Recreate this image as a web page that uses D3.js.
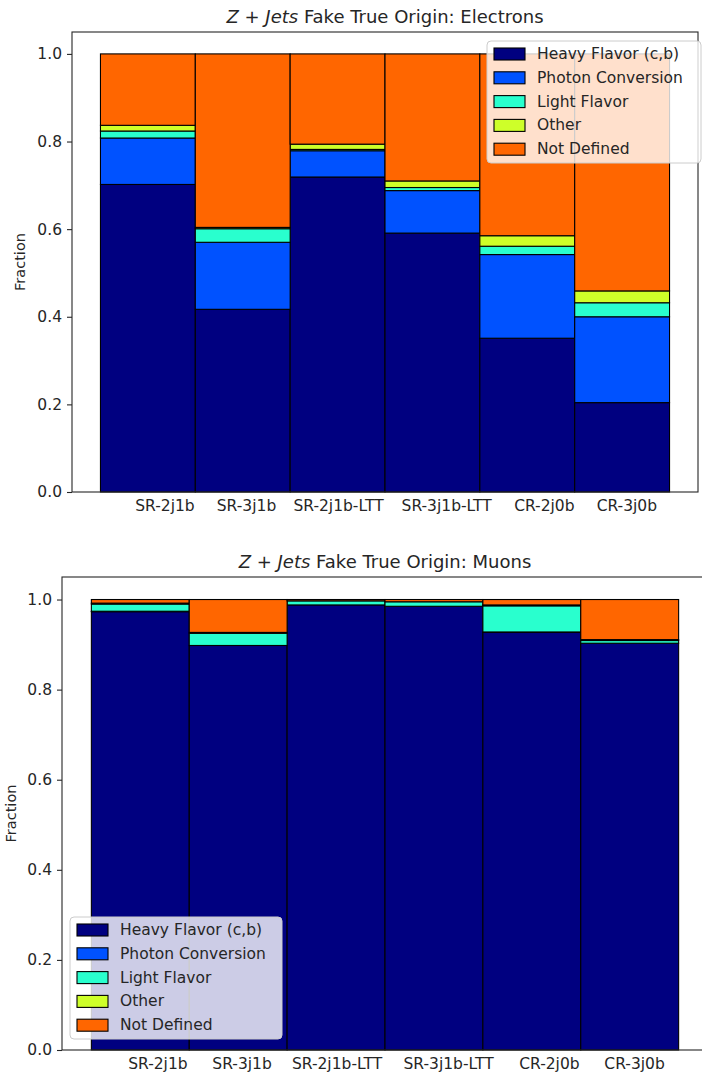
<!DOCTYPE html>
<html>
  <head>
    <title>Z+Jets fake origin</title>
    <script src="https://cdn.jsdelivr.net/npm/d3@7"></script>
    <style>
      body { margin: 0; background: #fff; }
      text { font-family: "DejaVu Sans", sans-serif; fill: #262626; }
    </style>
  </head>
  <body>
    <svg width="702" height="1077" id="mainsvg"></svg>
    <script>
      // categories + legend entries
      const regions = ['SR-2j1b', 'SR-3j1b', 'SR-2j1b-LTT', 'SR-3j1b-LTT', 'CR-2j0b', 'CR-3j0b'];
      const origins = ['Heavy Flavor (c,b)', 'Photon Conversion', 'Light Flavor', 'Other', 'Not Defined'];
      const yTicks = [0.0, 0.2, 0.4, 0.6, 0.8, 1.0];

      // electrons
      const elHeavy  = [0.702, 0.417, 0.719, 0.591, 0.351, 0.204];
      const elPhoton = [0.106, 0.153, 0.060, 0.097, 0.191, 0.196];
      const elLight  = [0.016, 0.031, 0.003, 0.007, 0.019, 0.032];
      const elOther  = [0.013, 0.003, 0.012, 0.015, 0.024, 0.027];
      const elNotDef = [0.163, 0.396, 0.206, 0.290, 0.415, 0.541];

      // muons
      const muHeavy  = [0.973, 0.898, 0.988, 0.985, 0.927, 0.903];
      const muPhoton = [0.001, 0.000, 0.000, 0.000, 0.001, 0.000];
      const muLight  = [0.016, 0.027, 0.009, 0.010, 0.058, 0.006];
      const muOther  = [0.002, 0.002, 0.000, 0.000, 0.002, 0.002];
      const muNotDef = [0.008, 0.073, 0.003, 0.005, 0.012, 0.089];

      const colors = ['#000080', '#0052ff', '#29ffce', '#ceff29', '#ff6600'];
      // tick labels in the original sit a bit right of the bar centres
      const labelNudge = [0.18, 0.04, 0.01, 0.15, 0.18, 0.05];

      const svg = d3.select('#mainsvg');
      const fs = 15.5;

      const toRows = function(series){
        return regions.map((r, i) => {
          const row = {region: r, idx: i};
          origins.forEach((o, k) => { row[o] = series[k][i]; });
          return row;
        });
      };

      const drawPanel = function(opt){
        const {box, series, particle, legendPos, ylabelX} = opt;
        const g = svg.append('g');

        const xScale = d3.scaleLinear().domain([-0.8, 5.8]).range([box.left, box.right]);
        const yScale = d3.scaleLinear().domain([0, 1.05]).range([box.bottom, box.top]);

        const stacked = d3.stack().keys(origins)(toRows(series));

        // bars
        stacked.forEach((layer, k) => {
          g.append('g').selectAll('rect').data(layer).join('rect')
            .attr('x', d => xScale(d.data.idx - 0.5))
            .attr('width', d => xScale(d.data.idx + 0.5) - xScale(d.data.idx - 0.5))
            .attr('y', d => yScale(d[1]))
            .attr('height', d => yScale(d[0]) - yScale(d[1]))
            .attr('fill', colors[k])
            .attr('stroke', '#000')
            .attr('stroke-width', 1.1);
        });

        // frame
        g.append('rect')
          .attr('x', box.left).attr('y', box.top)
          .attr('width', box.right - box.left).attr('height', box.bottom - box.top)
          .attr('fill', 'none').attr('stroke', '#262626').attr('stroke-width', 1.1);

        // y axis
        const yAxis = d3.axisLeft(yScale).tickValues(yTicks).tickFormat(d3.format('.1f'))
          .tickSize(5).tickPadding(5);
        const yg = g.append('g').attr('transform', `translate(${box.left},0)`).call(yAxis);
        yg.select('.domain').remove();
        yg.selectAll('line').attr('stroke', '#262626').attr('stroke-width', 1.1);
        yg.selectAll('text').attr('font-size', fs).attr('font-family', 'DejaVu Sans').attr('fill', '#262626');

        // x labels
        g.append('g').selectAll('text').data(regions).join('text')
          .attr('x', (d, i) => xScale(i + labelNudge[i]))
          .attr('y', box.bottom + 19)
          .attr('text-anchor', 'middle')
          .attr('font-size', fs)
          .text(d => d);

        // y label
        g.append('text')
          .attr('transform', `translate(${ylabelX},${(box.top + box.bottom) / 2}) rotate(-90)`)
          .attr('text-anchor', 'middle')
          .attr('dominant-baseline', 'central')
          .attr('font-size', 14.5)
          .text('Fraction');

        // title
        const t = g.append('text')
          .attr('x', (box.left + box.right) / 2)
          .attr('y', box.top - 9)
          .attr('text-anchor', 'middle')
          .attr('font-size', 18);
        t.append('tspan').attr('font-style', 'italic').text('Z');
        t.append('tspan').text(' + ');
        t.append('tspan').attr('font-style', 'italic').text('Jets');
        t.append('tspan').text(' Fake True Origin: ' + particle);

        // legend
        const lg = g.append('g').attr('transform', `translate(${legendPos.x},${legendPos.y})`);
        lg.append('rect')
          .attr('width', legendPos.w).attr('height', 122)
          .attr('rx', 4)
          .attr('fill', '#fff').attr('fill-opacity', 0.8)
          .attr('stroke', '#cccccc').attr('stroke-width', 1);
        origins.forEach((o, k) => {
          const yy = 13 + k * 23.8;
          lg.append('rect')
            .attr('x', 7).attr('y', yy - 6)
            .attr('width', 31).attr('height', 12)
            .attr('fill', colors[k]).attr('stroke', '#000').attr('stroke-width', 1.1);
          lg.append('text')
            .attr('x', 50).attr('y', yy)
            .attr('dominant-baseline', 'central')
            .attr('font-size', fs)
            .text(o);
        });
      };

      drawPanel({
        box: {left: 72, right: 698, top: 32, bottom: 492},
        series: [elHeavy, elPhoton, elLight, elOther, elNotDef],
        particle: 'Electrons',
        legendPos: {x: 487, y: 41, w: 214},
        ylabelX: 20
      });

      drawPanel({
        box: {left: 62, right: 708, top: 577, bottom: 1050},
        series: [muHeavy, muPhoton, muLight, muOther, muNotDef],
        particle: 'Muons',
        legendPos: {x: 70, y: 917, w: 212},
        ylabelX: 11
      });
    </script>
  </body>
</html>
